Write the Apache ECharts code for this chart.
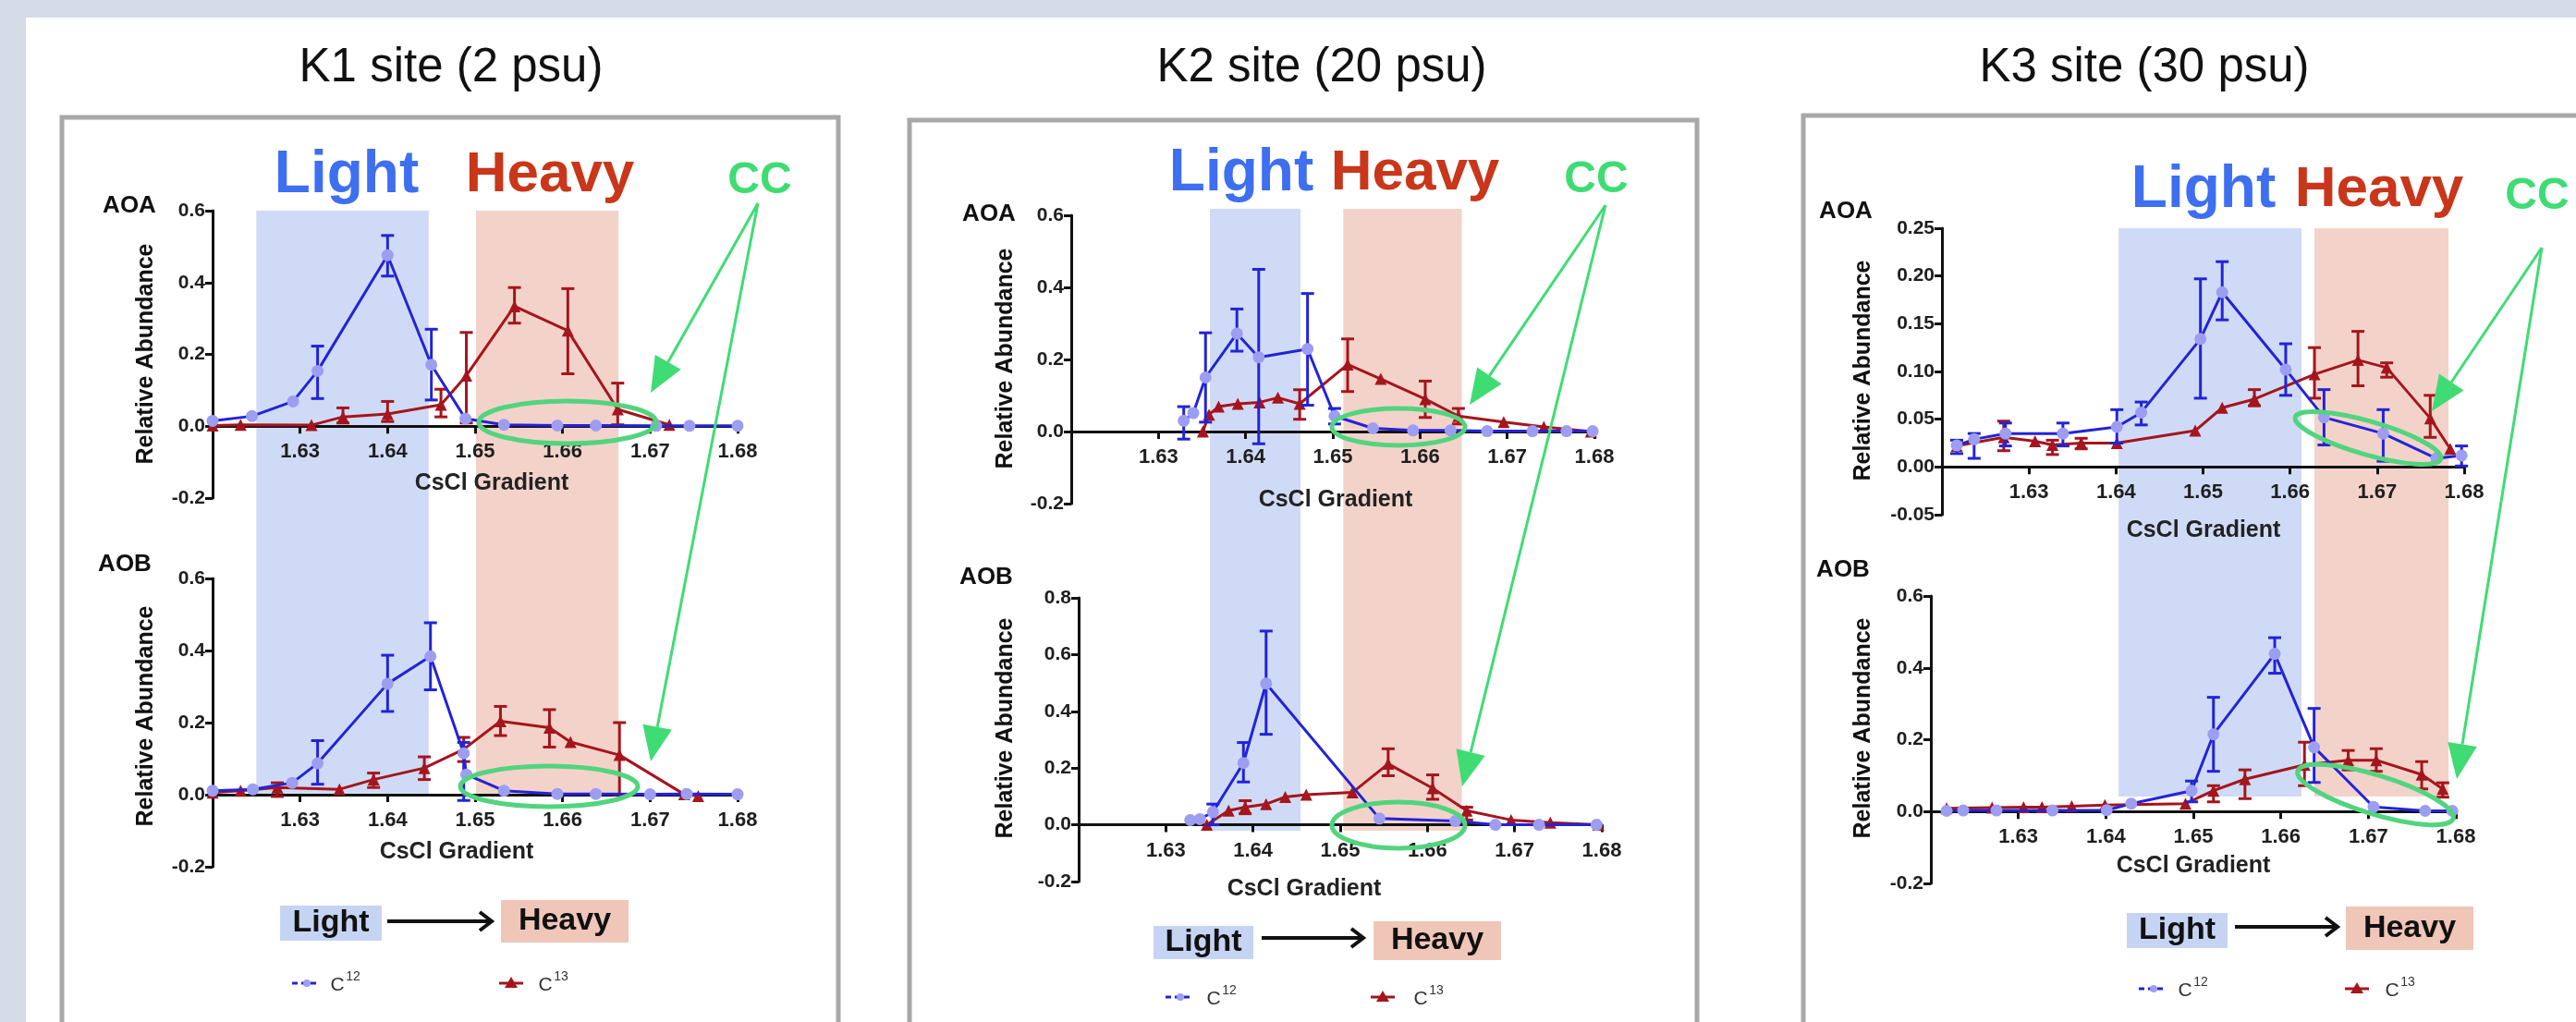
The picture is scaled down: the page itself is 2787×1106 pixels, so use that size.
<!DOCTYPE html>
<html>
<head>
<meta charset="utf-8">
<title>CsCl gradient - AOA / AOB</title>
<script src="https://cdn.jsdelivr.net/npm/echarts/dist/echarts.min.js"></script>
<style>
  html, body { margin: 0; padding: 0; background: #d6dce7; }
  #chart { width: 2787px; height: 1106px; }
</style>
</head>
<body>
<div id="chart"></div>
<script>
// ---------- data: [CsCl density, relative abundance, error low, error high] ----------
const siteTitles = ['K1 site (2 psu)', 'K2 site (20 psu)', 'K3 site (30 psu)'];

const k1AoaC12 = [
  [1.6200, 0.015, null, null], [1.6245, 0.028, null, null], [1.6292, 0.069, null, null],
  [1.6320, 0.154, 0.077, 0.223], [1.6400, 0.476, 0.418, 0.531], [1.6450, 0.171, 0.073, 0.270],
  [1.6489, 0.021, null, null], [1.6533, 0.004, null, null], [1.6594, 0.002, null, null],
  [1.6638, 0.002, null, null], [1.6707, 0.001, null, null], [1.6745, 0.001, null, null],
  [1.6800, 0.001, null, null]
];
const k1AoaC13 = [
  [1.6200, 0.002, null, null], [1.6232, 0.004, null, null], [1.6313, 0.003, null, null],
  [1.6349, 0.026, 0.009, 0.051], [1.6400, 0.034, 0.013, 0.069], [1.6461, 0.060, 0.026, 0.103],
  [1.6490, 0.141, 0.009, 0.261], [1.6545, 0.334, 0.287, 0.386], [1.6606, 0.266, 0.146, 0.383],
  [1.6663, 0.047, 0.004, 0.120], [1.6722, 0.004, null, null]
];
const k1AobC12 = [
  [1.6200, 0.011, null, null], [1.6246, 0.015, null, null], [1.6291, 0.033, null, null],
  [1.6320, 0.087, 0.029, 0.150], [1.6400, 0.308, 0.231, 0.387], [1.6449, 0.384, 0.291, 0.477],
  [1.6487, 0.115, -0.016, 0.145], [1.6490, 0.056, null, null], [1.6533, 0.011, null, null],
  [1.6594, 0.002, null, null], [1.6638, 0.002, null, null], [1.6700, 0.001, null, null],
  [1.6742, 0.002, null, null], [1.6800, 0.001, null, null]
];
const k1AobC13 = [
  [1.6200, 0.006, null, null], [1.6232, 0.011, null, null], [1.6274, 0.020, -0.005, 0.033],
  [1.6345, 0.015, null, null], [1.6384, 0.042, 0.020, 0.060], [1.6442, 0.074, 0.042, 0.105],
  [1.6487, 0.126, 0.092, 0.159], [1.6529, 0.204, 0.164, 0.245], [1.6585, 0.186, 0.132, 0.236],
  [1.6609, 0.146, null, null], [1.6665, 0.110, 0.000, 0.200], [1.6739, 0.001, null, null],
  [1.6755, -0.004, null, null]
];
const k2AoaC12 = [
  [1.6329, 0.030, -0.021, 0.069], [1.6340, 0.051, null, null], [1.6354, 0.150, 0.026, 0.274],
  [1.6390, 0.272, 0.223, 0.340], [1.6415, 0.206, -0.034, 0.450], [1.6471, 0.229, 0.073, 0.383],
  [1.6502, 0.043, 0.021, 0.064], [1.6546, 0.009, null, null], [1.6592, 0.003, null, null],
  [1.6635, 0.003, null, null], [1.6677, 0.001, null, null], [1.6729, 0.001, null, null],
  [1.6768, 0.001, null, null], [1.6798, 0.001, null, null]
];
const k2AoaC13 = [
  [1.6351, 0.000, null, null], [1.6358, 0.047, null, null], [1.6369, 0.069, null, null],
  [1.6391, 0.077, null, null], [1.6416, 0.081, null, null], [1.6437, 0.094, null, null],
  [1.6462, 0.077, 0.034, 0.116], [1.6517, 0.186, 0.111, 0.257], [1.6555, 0.146, null, null],
  [1.6606, 0.090, 0.039, 0.140], [1.6644, 0.043, 0.021, 0.064], [1.6696, 0.026, null, null],
  [1.6742, 0.013, null, null], [1.6796, 0.000, null, null]
];
const k2AobC12 = [
  [1.6328, 0.017, null, null], [1.6339, 0.020, null, null], [1.6354, 0.045, 0.000, 0.073],
  [1.6389, 0.218, 0.151, 0.290], [1.6415, 0.498, 0.319, 0.683], [1.6545, 0.022, null, null],
  [1.6632, 0.013, null, null], [1.6678, 0.000, null, null], [1.6728, 0.000, null, null],
  [1.6794, 0.000, null, null]
];
const k2AobC13 = [
  [1.6347, 0.000, null, null], [1.6372, 0.050, null, null], [1.6391, 0.062, 0.039, 0.085],
  [1.6415, 0.073, null, null], [1.6437, 0.098, null, null], [1.6461, 0.106, null, null],
  [1.6514, 0.114, null, null], [1.6555, 0.215, 0.173, 0.268], [1.6606, 0.129, 0.090, 0.176],
  [1.6645, 0.050, 0.017, 0.062], [1.6696, 0.017, null, null], [1.6741, 0.008, null, null],
  [1.6796, 0.000, null, null]
];
const k3AoaC12 = [
  [1.6217, 0.0225, 0.014, 0.028], [1.6237, 0.029, 0.009, 0.035], [1.6273, 0.035, 0.022, 0.046],
  [1.6339, 0.035, 0.022, 0.046], [1.6401, 0.042, 0.025, 0.060], [1.6429, 0.057, 0.044, 0.068],
  [1.6497, 0.134, 0.072, 0.197], [1.6522, 0.183, 0.154, 0.215], [1.6595, 0.102, 0.075, 0.129],
  [1.6639, 0.052, 0.023, 0.081], [1.6707, 0.035, 0.006, 0.060], [1.6768, 0.009, null, null],
  [1.6797, 0.012, 0.001, 0.022]
];
const k3AoaC13 = [
  [1.6217, 0.022, null, null], [1.6271, 0.031, 0.017, 0.048], [1.6307, 0.027, null, null],
  [1.6327, 0.023, 0.013, 0.028], [1.6360, 0.025, 0.019, 0.030], [1.6401, 0.025, null, null],
  [1.6491, 0.038, null, null], [1.6522, 0.062, null, null], [1.6559, 0.071, 0.064, 0.081],
  [1.6628, 0.097, 0.072, 0.125], [1.6678, 0.112, 0.085, 0.142], [1.6711, 0.104, 0.094, 0.109],
  [1.6761, 0.051, 0.031, 0.075], [1.6784, 0.019, null, null]
];
const k3AobC12 = [
  [1.6218, 0.002, null, null], [1.6237, 0.003, null, null], [1.6275, 0.003, null, null],
  [1.6339, 0.003, null, null], [1.6401, 0.004, null, null], [1.6429, 0.022, null, null],
  [1.6498, 0.058, 0.027, 0.085], [1.6523, 0.215, 0.112, 0.318], [1.6593, 0.439, 0.385, 0.484],
  [1.6638, 0.179, 0.081, 0.287], [1.6706, 0.013, null, null], [1.6765, 0.002, null, null],
  [1.6796, 0.002, null, null]
];
const k3AobC13 = [
  [1.6218, 0.009, null, null], [1.6270, 0.011, null, null], [1.6306, 0.012, null, null],
  [1.6327, 0.012, null, null], [1.6361, 0.015, null, null], [1.6399, 0.018, null, null],
  [1.6491, 0.022, null, null], [1.6523, 0.058, 0.027, 0.072], [1.6559, 0.090, 0.036, 0.116],
  [1.6627, 0.130, 0.072, 0.193], [1.6677, 0.143, 0.116, 0.170], [1.6709, 0.143, 0.112, 0.175],
  [1.6761, 0.103, 0.063, 0.139], [1.6785, 0.063, 0.040, 0.080]
];

// light / heavy fraction windows (CsCl density)
const k1Bands = [[1.6250, 1.6447], [1.6501, 1.6664]];
const k2Bands = [[1.6359, 1.6463], [1.6512, 1.6648]];
const k3Bands = [[1.6403, 1.6613], [1.6628, 1.6782]];

// ---------- styles ----------
const FAMILY = "'Liberation Sans', Arial, sans-serif";
const BLUE = '#2323d8';
const LAVENDER = '#9d9df2';
const RED = '#a5151d';
const GREEN = '#3fdc74';
const GREEN_RING = '#52d47e';
const LIGHT_BG = '#cfdbf6';
const HEAVY_BG = '#f3d3c9';

// grid placement of each small plot
const panels = [
  { c12: k1AoaC12, c13: k1AoaC13, left: 230, top: 228, width: 568, height: 311, min: -0.2, max: 0.6, step: 0.2, digits: 1 },
  { c12: k1AobC12, c13: k1AobC13, left: 230, top: 626, width: 568, height: 312, min: -0.2, max: 0.6, step: 0.2, digits: 1 },
  { c12: k2AoaC12, c13: k2AoaC13, left: 1159, top: 233, width: 566, height: 312, min: -0.2, max: 0.6, step: 0.2, digits: 1 },
  { c12: k2AobC12, c13: k2AobC13, left: 1167, top: 647, width: 566, height: 307, min: -0.2, max: 0.8, step: 0.2, digits: 1 },
  { c12: k3AoaC12, c13: k3AoaC13, left: 2101, top: 247, width: 565, height: 310, min: -0.05, max: 0.25, step: 0.05, digits: 2 },
  { c12: k3AobC12, c13: k3AobC13, left: 2089, top: 645, width: 568, height: 311, min: -0.2, max: 0.6, step: 0.2, digits: 1 }
];
const bandGrids = [
  { bands: k1Bands, left: 230, top: 228, width: 568, height: 632 },
  { bands: k2Bands, left: 1159, top: 226, width: 566, height: 673 },
  { bands: k3Bands, left: 2101, top: 247, width: 565, height: 615 }
];

function errorBars(color) {
  return function (params, api) {
    const x = api.value(0);
    const top = api.coord([x, api.value(3)]);
    const bot = api.coord([x, api.value(2)]);
    const w = 7;
    const st = { stroke: color, lineWidth: 3 };
    return {
      type: 'group',
      children: [
        { type: 'line', shape: { x1: top[0], y1: top[1], x2: bot[0], y2: bot[1] }, style: st },
        { type: 'line', shape: { x1: top[0] - w, y1: top[1], x2: top[0] + w, y2: top[1] }, style: st },
        { type: 'line', shape: { x1: bot[0] - w, y1: bot[1], x2: bot[0] + w, y2: bot[1] }, style: st }
      ]
    };
  };
}

function bandRender(params, api) {
  const a = api.coord([api.value(0), 1]);
  const b = api.coord([api.value(1), 0]);
  return {
    type: 'rect',
    shape: { x: a[0], y: a[1], width: b[0] - a[0], height: b[1] - a[1] },
    style: { fill: params.dataIndex === 0 ? LIGHT_BG : HEAVY_BG }
  };
}

const grids = [], xAxes = [], yAxes = [], series = [];

panels.forEach(function (p, i) {
  grids.push({ left: p.left, top: p.top, width: p.width, height: p.height });
  // put the x axis (line, ticks, labels) on the zero line
  const zeroShift = p.height * (0 - p.min) / (p.max - p.min);
  xAxes.push({
    gridIndex: i, type: 'value', min: 1.62, max: 1.68, interval: 0.01,
    position: 'bottom', offset: -zeroShift,
    axisLine: { onZero: false, lineStyle: { color: '#111', width: 3 } },
    axisTick: { length: 8, lineStyle: { color: '#111', width: 3 } },
    axisLabel: {
      margin: 17, color: '#1e1e1e', fontSize: 22, fontWeight: 'bold', fontFamily: FAMILY,
      formatter: function (v) { return Math.abs(v - 1.62) < 1e-6 ? '' : v.toFixed(2); }
    },
    splitLine: { show: false }
  });
  yAxes.push({
    gridIndex: i, type: 'value', min: p.min, max: p.max, interval: p.step,
    axisLine: { show: true, lineStyle: { color: '#111', width: 3 } },
    axisTick: { show: true, length: 8, lineStyle: { color: '#111', width: 3 } },
    axisLabel: {
      margin: 8, color: '#1e1e1e', fontSize: 21, fontWeight: 'bold', fontFamily: FAMILY,
      formatter: function (v) { return v.toFixed(p.digits); }
    },
    splitLine: { show: false }
  });
  series.push({
    type: 'line', xAxisIndex: i, yAxisIndex: i, z: 3,
    data: p.c13.map(function (d) { return [d[0], d[1]]; }),
    symbol: 'triangle', symbolSize: 13,
    itemStyle: { color: RED }, lineStyle: { color: RED, width: 3 }
  });
  series.push({
    type: 'custom', xAxisIndex: i, yAxisIndex: i, z: 3,
    renderItem: errorBars(RED),
    data: p.c13.filter(function (d) { return d[2] !== null; }),
    encode: { x: 0, y: 1 }
  });
  series.push({
    type: 'line', xAxisIndex: i, yAxisIndex: i, z: 4,
    data: p.c12.map(function (d) { return [d[0], d[1]]; }),
    symbol: 'circle', symbolSize: 13,
    itemStyle: { color: LAVENDER }, lineStyle: { color: BLUE, width: 3 }
  });
  series.push({
    type: 'custom', xAxisIndex: i, yAxisIndex: i, z: 4,
    renderItem: errorBars(BLUE),
    data: p.c12.filter(function (d) { return d[2] !== null; }),
    encode: { x: 0, y: 1 }
  });
});

bandGrids.forEach(function (b, k) {
  const i = panels.length + k;
  grids.push({ left: b.left, top: b.top, width: b.width, height: b.height });
  xAxes.push({ gridIndex: i, type: 'value', min: 1.62, max: 1.68, show: false });
  yAxes.push({ gridIndex: i, type: 'value', min: 0, max: 1, show: false });
  series.push({
    type: 'custom', xAxisIndex: i, yAxisIndex: i, z: -1, silent: true,
    renderItem: bandRender, data: b.bands, encode: { x: [0, 1] }
  });
});

// ---------- decorations ----------
function txt(x, y, s, size, color, weight, rot) {
  return {
    type: 'text', x: x, y: y, rotation: rot || 0, z: 100,
    style: {
      text: s, fill: color, font: (weight || 'bold') + ' ' + size + 'px ' + FAMILY,
      textAlign: 'center', textVerticalAlign: 'middle', align: 'center', verticalAlign: 'middle'
    }
  };
}
function line(x1, y1, x2, y2, color, w, dash) {
  return { type: 'line', z: 100, shape: { x1: x1, y1: y1, x2: x2, y2: y2 },
    style: { stroke: color, lineWidth: w, lineDash: dash || null } };
}
function greenArrow(x1, y1, x2, y2) {
  const ang = Math.atan2(y2 - y1, x2 - x1);
  const len = 38, hw = 16;
  const bx = x2 - len * Math.cos(ang), by = y2 - len * Math.sin(ang);
  const px = -Math.sin(ang) * hw, py = Math.cos(ang) * hw;
  return [
    line(x1, y1, bx, by, GREEN, 3),
    { type: 'polygon', z: 100, shape: { points: [[x2, y2], [bx + px, by + py], [bx - px, by - py]] }, style: { fill: GREEN } }
  ];
}
function ring(cx, cy, rx, ry, deg) {
  return { type: 'ellipse', x: cx, y: cy, rotation: (deg || 0) * Math.PI / 180, z: 99,
    shape: { cx: 0, cy: 0, rx: rx, ry: ry }, style: { fill: 'none', stroke: GREEN_RING, lineWidth: 5 } };
}
function rect(x, y, w, h, fill) {
  return { type: 'rect', z: 90, shape: { x: x, y: y, width: w, height: h }, style: { fill: fill } };
}
function frame(x, y, w, h) {
  return { type: 'rect', z: -50, shape: { x: x, y: y, width: w, height: h },
    style: { fill: 'none', stroke: '#a8a8a8', lineWidth: 5 } };
}
function flowLegend(lx, ly, lw, lh, hx, hy, hw, hh, ax1, ax2, ay) {
  return [
    rect(lx, ly, lw, lh, '#c6d4f4'),
    rect(hx, hy, hw, hh, '#efc6b8'),
    txt(lx + lw / 2, ly + lh / 2, 'Light', 34, '#111'),
    txt(hx + hw / 2, hy + hh / 2, 'Heavy', 34, '#111'),
    line(ax1, ay, ax2 - 2, ay, '#111', 4),
    { type: 'polyline', z: 100, shape: { points: [[ax2 - 13, ay - 10], [ax2, ay], [ax2 - 13, ay + 10]] },
      style: { stroke: '#111', lineWidth: 4, fill: 'none' } }
  ];
}
function isoLegend(m1, t1, m2, t2, y) {
  return [
    line(m1 - 13, y, m1 + 13, y, BLUE, 3, [6, 4]),
    { type: 'circle', z: 101, shape: { cx: m1 + 3, cy: y, r: 4 }, style: { fill: LAVENDER } },
    txt(t1, y + 2, 'C', 21, '#333', 'normal'),
    txt(t1 + 17, y - 7, '12', 14, '#333', 'normal'),
    line(m2 - 13, y, m2 + 13, y, RED, 3),
    { type: 'polygon', z: 101, shape: { points: [[m2, y - 7], [m2 - 7, y + 5], [m2 + 7, y + 5]] }, style: { fill: RED } },
    txt(t2, y + 2, 'C', 21, '#333', 'normal'),
    txt(t2 + 17, y - 7, '13', 14, '#333', 'normal')
  ];
}

let elements = [
  { type: 'rect', z: -100, shape: { x: 28, y: 19, width: 2759, height: 1087 }, style: { fill: '#ffffff' } },
  frame(67, 127, 840, 1100), frame(984, 130, 852, 1100), frame(1951, 125, 1000, 1100),
  txt(488, 74, siteTitles[0], 51, '#111', 'normal'),
  txt(1430, 74, siteTitles[1], 51, '#111', 'normal'),
  txt(2320, 74, siteTitles[2], 51, '#111', 'normal'),
  // headline words
  txt(375, 190, 'Light', 64, '#3d6ff0'), txt(595, 190, 'Heavy', 62, '#c9361a'), txt(822, 196, 'CC', 48, GREEN),
  txt(1343, 188, 'Light', 64, '#3d6ff0'), txt(1531, 188, 'Heavy', 62, '#c9361a'), txt(1727, 195, 'CC', 48, GREEN),
  txt(2384, 206, 'Light', 64, '#3d6ff0'), txt(2574, 206, 'Heavy', 62, '#c9361a'), txt(2745, 213, 'CC', 48, GREEN),
  // panel labels
  txt(140, 223, 'AOA', 26, '#111'), txt(135, 611, 'AOB', 26, '#111'),
  txt(1070, 232, 'AOA', 26, '#111'), txt(1067, 625, 'AOB', 26, '#111'),
  txt(1997, 229, 'AOA', 26, '#111'), txt(1994, 617, 'AOB', 26, '#111'),
  // axis titles
  txt(158, 383, 'Relative Abundance', 25, '#111', 'bold', Math.PI / 2),
  txt(158, 775, 'Relative Abundance', 25, '#111', 'bold', Math.PI / 2),
  txt(1088, 388, 'Relative Abundance', 25, '#111', 'bold', Math.PI / 2),
  txt(1088, 788, 'Relative Abundance', 25, '#111', 'bold', Math.PI / 2),
  txt(2016, 401, 'Relative Abundance', 25, '#111', 'bold', Math.PI / 2),
  txt(2016, 788, 'Relative Abundance', 25, '#111', 'bold', Math.PI / 2),
  txt(532, 523, 'CsCl Gradient', 25, '#222'), txt(494, 922, 'CsCl Gradient', 25, '#222'),
  txt(1445, 541, 'CsCl Gradient', 25, '#222'), txt(1411, 962, 'CsCl Gradient', 25, '#222'),
  txt(2384, 574, 'CsCl Gradient', 25, '#222'), txt(2373, 937, 'CsCl Gradient', 25, '#222'),
  // CC rings
  ring(614, 457, 96, 23), ring(594, 851, 96, 22),
  ring(1513, 462, 72, 20), ring(1513, 893, 72, 25),
  ring(2562, 474, 82, 18, -16), ring(2570, 860, 88, 21, -17)
];
elements = elements.concat(
  greenArrow(820, 220, 704, 425), greenArrow(820, 220, 704, 824),
  greenArrow(1737, 222, 1590, 438), greenArrow(1737, 222, 1582, 851),
  greenArrow(2750, 268, 2631, 445), greenArrow(2750, 268, 2658, 843),
  flowLegend(303, 980, 110, 38, 542, 974, 138, 46, 419, 532, 997),
  flowLegend(1248, 1002, 108, 36, 1486, 997, 138, 42, 1365, 1475, 1015),
  flowLegend(2301, 988, 109, 38, 2538, 981, 138, 47, 2418, 2529, 1003),
  isoLegend(329, 365, 553, 590, 1064),
  isoLegend(1274, 1313, 1496, 1537, 1079),
  isoLegend(2327, 2364, 2550, 2588, 1070)
);

const chart = echarts.init(document.getElementById('chart'), null, { renderer: 'canvas' });
chart.setOption({
  backgroundColor: '#d6dce7',
  animation: false,
  grid: grids,
  xAxis: xAxes,
  yAxis: yAxes,
  series: series,
  graphic: { elements: elements }
});
</script>
</body>
</html>
